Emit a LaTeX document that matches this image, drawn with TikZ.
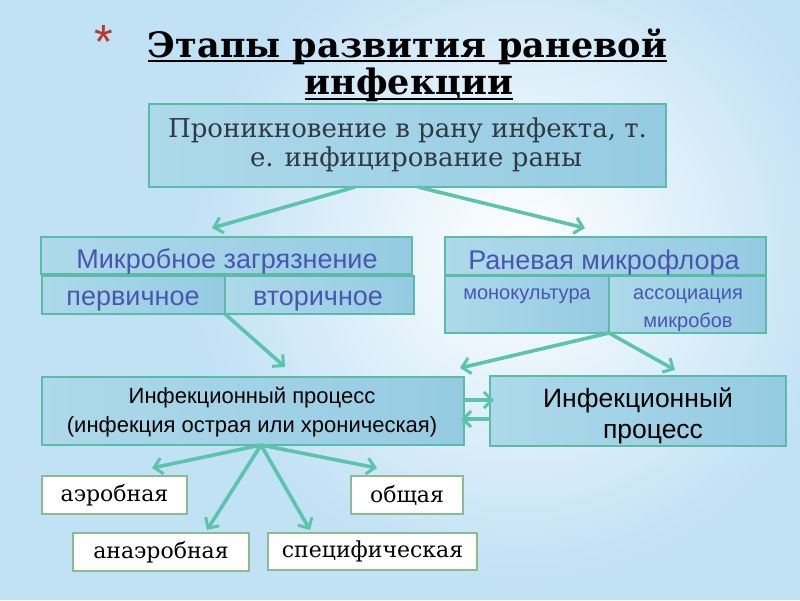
\documentclass[tikz,border=0pt]{standalone}
\usepackage{fontspec}
\setmainfont{DejaVu Serif}
\newfontfamily\sansf{Liberation Sans}
\usetikzlibrary{arrows.meta}
\definecolor{bgblue}{HTML}{C1E1F5}
\definecolor{boxA}{HTML}{ADD9EA}
\definecolor{boxB}{HTML}{95CBE2}
\definecolor{tealb}{HTML}{5BBBA6}
\definecolor{arr}{HTML}{5CC4AC}
\definecolor{purp}{HTML}{4A55B0}
\definecolor{wborder}{HTML}{8DBB8D}
\definecolor{starred}{HTML}{B53A2C}
\definecolor{darkt}{HTML}{2F3A44}
\tikzset{
  bluebox/.style={draw=tealb, line width=1.6pt, left color=boxA, right color=boxB, inner sep=0pt},
  whitebox/.style={draw=wborder, line width=1.2pt, fill=white, inner sep=0pt, align=center, font=\fontsize{22}{26}\selectfont},
  txt/.style={anchor=base, inner sep=0pt},
  purpbig/.style={txt, text=purp, font=\sansf\fontsize{27}{30}\selectfont},
  purpsmall/.style={txt, text=purp, font=\sansf\fontsize{20}{24}\selectfont},
  conn/.style={draw=arr, line width=3.6pt, -{Straight Barb[length=8pt,width=16pt,line width=3pt]}},
}
\begin{document}
\begin{tikzpicture}[x=1pt,y=-1pt]
\useasboundingbox (0,0) rectangle (800,600);
\fill[bgblue] (0,0) rectangle (800,600);
\shade[inner color=white, outer color=bgblue] (520,250) ellipse (330 and 330);
% title
\node[text=starred, font=\sansf\fontsize{48}{48}\selectfont, anchor=base] (star) at (104,58) {*};
\node[txt, font=\bfseries\fontsize{35}{40}\selectfont] (t1) at (407.5,57) {Этапы развития раневой};
\node[txt, font=\bfseries\fontsize{35}{40}\selectfont] (t2) at (409,94) {инфекции};
\draw[line width=2.4pt] (t1.base west) ++(0,4) coordinate (u1a) -- (t1.base east |- u1a);
\draw[line width=2.4pt] (t2.base west) ++(0,5) coordinate (u2a) -- (t2.base east |- u2a);
% box 1
\node[bluebox, minimum width=517pt, minimum height=83pt] (b1) at (407.5,145.5) {};
\node[txt, text=darkt, font=\fontsize{26}{30}\selectfont] (b1l1) at (407.5,137) {Проникновение в рану инфекта, т.};
\node[txt, text=darkt, font=\fontsize{26}{30}\selectfont] (b1l2) at (416,166) {е. инфицирование раны};
% microbial contamination
\node[bluebox, minimum width=371pt, minimum height=37pt] (mz) at (226.5,255.5) {};
\node[purpbig] (mzt) at (227,268) {Микробное загрязнение};
\node[bluebox, minimum width=183pt, minimum height=38pt] (pv) at (133.5,295) {};
\node[purpbig] (pvt) at (133,305) {первичное};
\node[bluebox, minimum width=189pt, minimum height=38pt] (vt) at (319.5,295) {};
\node[purpbig] (vtt) at (318,305) {вторичное};
% wound microflora
\node[bluebox, minimum width=321pt, minimum height=38pt] (rm) at (605.5,256) {};
\node[purpbig] (rmt) at (604,269) {Раневая микрофлора};
\node[bluebox, minimum width=164pt, minimum height=57pt] (mk) at (527,304.5) {};
\node[purpsmall] (mkt) at (527,299) {монокультура};
\node[bluebox, minimum width=157pt, minimum height=57pt] (am) at (687.5,304.5) {};
\node[purpsmall] (amt1) at (688,299) {ассоциация};
\node[purpsmall] (amt2) at (688,327) {микробов};
% infectious process
\node[bluebox, minimum width=422pt, minimum height=68pt] (ip) at (253,411) {};
\node[txt, font=\sansf\fontsize{22}{29}\selectfont] (ipl1) at (252,403) {Инфекционный процесс};
\node[txt, font=\sansf\fontsize{22}{29}\selectfont] (ipl2) at (252,432) {(инфекция острая или хроническая)};
\node[bluebox, minimum width=296pt, minimum height=70pt] (ip2) at (638,411) {};
\node[txt, font=\sansf\fontsize{26.5}{31}\selectfont] (ip2l1) at (638,407) {Инфекционный};
\node[txt, font=\sansf\fontsize{26.5}{31}\selectfont] (ip2l2) at (653,438) {процесс};
% white boxes
\node[whitebox, minimum width=145pt, minimum height=38pt] (aer) at (114.5,495) {аэробная};
\node[whitebox, minimum width=112pt, minimum height=38pt] (obs) at (407,495) {общая};
\node[whitebox, minimum width=176pt, minimum height=38pt] (ana) at (161,552) {анаэробная};
\node[whitebox, minimum width=209pt, minimum height=37pt] (spe) at (372.5,551.5) {специфическая};
% connector points
\coordinate (s1) at (355,187);
\coordinate (s2) at (418,187);
\coordinate (e1) at (212,228);
\coordinate (e2) at (585,228);
\coordinate (s3) at (225,314);
\coordinate (e3) at (285,367);
\coordinate (s4) at (609,333);
\coordinate (e4) at (460,368);
\coordinate (e5) at (675,370);
\coordinate (s6) at (464,400);
\coordinate (e6) at (494,400);
\coordinate (s7) at (490,419);
\coordinate (e7) at (461,419);
\coordinate (s8) at (261,445);
\coordinate (e8) at (152,468);
\coordinate (e9) at (207,530);
\coordinate (e10) at (310,530);
\coordinate (e11) at (377,468);
\draw[conn] (s1) -- (e1);
\draw[conn] (s2) -- (e2);
\draw[conn] (s3) -- (e3);
\draw[conn] (s4) -- (e4);
\draw[conn] (s4) -- (e5);
\draw[conn] (s6) -- (e6);
\draw[conn] (s7) -- (e7);
\draw[conn] (s8) -- (e8);
\draw[conn] (s8) -- (e9);
\draw[conn] (s8) -- (e10);
\draw[conn] (s8) -- (e11);
\end{tikzpicture}
\end{document}
